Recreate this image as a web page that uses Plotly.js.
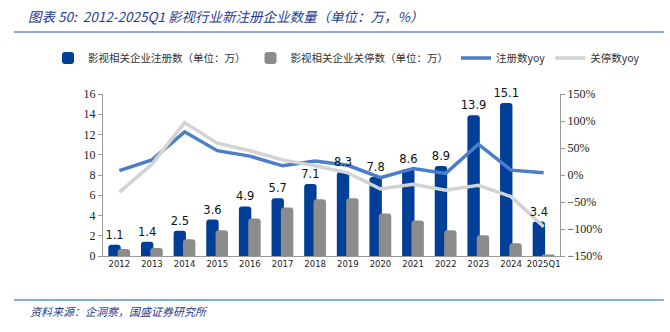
<!DOCTYPE html>
<html>
<head>
<meta charset="utf-8">
<script src="https://cdn.plot.ly/plotly-3.0.1.min.js"></script>
<style>html,body{margin:0;padding:0;background:#fff;}#chart{width:670px;height:332px;}</style>
</head>
<body>
<div id="chart"></div>
<script>
const categories = ['2012','2013','2014','2015','2016','2017','2018','2019','2020','2021','2022','2023','2024','2025Q1'];
const registered = [1.1, 1.4, 2.5, 3.6, 4.9, 5.7, 7.1, 8.3, 7.8, 8.6, 8.9, 13.9, 15.1, 3.4];
const closed = [0.7, 0.8, 1.65, 2.55, 3.7, 4.8, 5.6, 5.7, 4.2, 3.5, 2.55, 2.05, 1.25, 0.15];
const registeredYoy = [8, 28, 80, 45, 35, 17, 26, 18, -5, 12, 3, 57, 9, 4];
const closedYoy = [-32, 20, 97, 59, 45, 28, 17, 4, -26, -17, -28, -19, -40, -96];

const W = 670, H = 332;
const M = {l: 103, r: 110, t: 94, b: 76};
const PW = W - M.l - M.r, PH = H - M.t - M.b;
const px = x => (x - M.l) / PW;
const py = y => (H - M.b - y) / PH;

const cjk = '"Noto Sans CJK SC", "Noto Sans", sans-serif';
const serif = '"Liberation Serif", "DejaVu Serif", serif';
const titleBlue = '#1f3c8f';
const BW = 0.38, BLUE_OFF = -0.337, GRAY_OFF = -0.05;

const traces = [
  {type: 'bar', name: '影视相关企业注册数（单位：万）', x: categories, y: registered,
   width: BW, offset: BLUE_OFF, legend: 'legend',
   marker: {color: '#003f98', cornerradius: 3}, textposition: 'none'},
  {type: 'bar', name: '影视相关企业关停数（单位：万）', x: categories, y: closed,
   width: BW, offset: GRAY_OFF, legend: 'legend',
   marker: {color: '#8c8c8c', cornerradius: 3}, textposition: 'none'},
  {type: 'scatter', mode: 'lines', name: '注册数yoy', x: categories, y: registeredYoy, yaxis: 'y2',
   legend: 'legend2', line: {color: '#4a7ec8', width: 3.5}},
  {type: 'scatter', mode: 'lines', name: '关停数yoy', x: categories, y: closedYoy, yaxis: 'y2',
   legend: 'legend2', line: {color: '#d3d3d3', width: 3.5}},
  // value labels drawn on a top layer so the lines do not cover them
  {type: 'bar', name: 'labels', x: categories, y: registered, yaxis: 'y3', showlegend: false,
   width: BW, offset: BLUE_OFF, marker: {color: 'rgba(0,0,0,0)'},
   text: registered.map(v => v.toFixed(1)), textposition: 'outside', cliponaxis: false,
   constraintext: 'none', textfont: {family: '"DejaVu Sans", sans-serif', size: 11.5, color: '#111'}}
];

const layout = {
  width: W, height: H,
  margin: M,
  paper_bgcolor: '#fff', plot_bgcolor: '#fff',
  showlegend: true,
  barmode: 'overlay',
  title: {text: '<i>图表 50:  2012-2025Q1 影视行业新注册企业数量（单位：万，%）</i>',
          x: 28 / W, xanchor: 'left', xref: 'container', y: 1 - 17 / H, yref: 'container', yanchor: 'middle',
          font: {family: cjk, size: 13.5, color: titleBlue}},
  legend: {orientation: 'h', xref: 'container', yref: 'container', x: 48 / W, xanchor: 'left',
           y: 1 - 58 / H, yanchor: 'middle',
           font: {family: cjk, size: 10.5, color: '#333'}, traceorder: 'normal',
           itemwidth: 30, bgcolor: 'rgba(0,0,0,0)'},
  legend2: {orientation: 'h', xref: 'container', yref: 'container', x: 456 / W, xanchor: 'left',
           y: 1 - 58 / H, yanchor: 'middle',
           font: {family: cjk, size: 10.5, color: '#333'}, traceorder: 'normal',
           itemwidth: 30, bgcolor: 'rgba(0,0,0,0)'},
  xaxis: {type: 'category', showline: true, linecolor: '#999', linewidth: 1, ticks: '',
          tickfont: {family: '"DejaVu Sans", sans-serif', size: 8.5, color: '#222'},
          showgrid: false, zeroline: false},
  yaxis: {range: [0, 16], dtick: 2, showline: true, linecolor: '#999', ticks: 'outside', ticklen: 4,
          tickcolor: '#999', tickfont: {family: serif, size: 12, color: '#222'}, showgrid: false, zeroline: false},
  yaxis2: {range: [-150, 150], dtick: 50, overlaying: 'y', side: 'right', showline: true, linecolor: '#999',
           ticks: 'outside', ticklen: 4, tickcolor: '#999', ticksuffix: '%',
           tickfont: {family: serif, size: 12, color: '#222'}, showgrid: false, zeroline: false},
  yaxis3: {range: [0, 16], overlaying: 'y', visible: false},
  shapes: [
    {type: 'line', xref: 'paper', yref: 'paper', x0: px(14), x1: px(664), y0: py(32), y1: py(32),
     line: {color: '#8eaadb', width: 2}},
    {type: 'line', xref: 'paper', yref: 'paper', x0: px(14), x1: px(664), y0: py(300), y1: py(300),
     line: {color: '#8eaadb', width: 2}}
  ],
  annotations: [
    {text: '<i>资料来源：企洞察，国盛证券研究所</i>', xref: 'paper', yref: 'paper', x: px(28), y: py(311),
     xanchor: 'left', yanchor: 'middle', showarrow: false, font: {family: cjk, size: 11, color: titleBlue}}
  ]
};

Plotly.newPlot('chart', traces, layout, {staticPlot: true, displayModeBar: false});
</script>
</body>
</html>
